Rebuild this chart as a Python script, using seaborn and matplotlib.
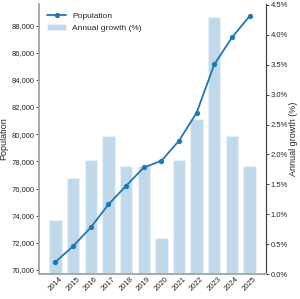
import matplotlib
matplotlib.use("Agg")
import matplotlib.pyplot as plt
import matplotlib.ticker as mticker
import seaborn as sns
import pandas as pd

# datos
years = [2014, 2015, 2016, 2017, 2018, 2019, 2020, 2021, 2022, 2023, 2024, 2025]
population = [70600, 71760, 73140, 74830, 76200, 77550, 78040, 79520, 81590, 85140, 87120, 88690]
growth = [0.9, 1.6, 1.9, 2.3, 1.8, 1.8, 0.6, 1.9, 2.6, 4.3, 2.3, 1.8]

df = pd.DataFrame({"year": years, "population": population, "growth": growth})

sns.set_style("ticks")
plt.rcParams["font.family"] = ["Liberation Sans", "DejaVu Sans"]
fs = 5.5

fig, ax = plt.subplots(figsize=(3.0, 2.99), dpi=100)
ax2 = ax.twinx()

# barras en el eje derecho
ax2.bar(df["year"], df["growth"], width=0.7, color="#1f77b4", alpha=0.28,
        label="Annual growth (%)")
# linea de poblacion en el eje izquierdo
sns.lineplot(data=df, x="year", y="population", ax=ax, color="#1f77b4",
             marker="o", markersize=3.8, markeredgewidth=0, linewidth=1.3,
             label="Population")

ax.set_zorder(ax2.get_zorder() + 1)
ax.patch.set_visible(False)

ax.set_xticks(years)
ax.set_xticklabels([str(y) for y in years], rotation=45, fontsize=fs)
ax.yaxis.set_major_locator(mticker.MultipleLocator(2000))
ax2.yaxis.set_major_locator(mticker.MultipleLocator(0.5))
ax.yaxis.set_major_formatter(mticker.FuncFormatter(lambda v, p: f"{v:,.0f}"))
ax2.yaxis.set_major_formatter(mticker.FuncFormatter(lambda v, p: f"{v:.1f}%"))
ax.tick_params(axis="y", labelsize=fs, length=2, width=0.6, pad=1.5)
ax.tick_params(axis="x", length=0, pad=1)
ax2.tick_params(axis="y", labelsize=fs, length=2, width=0.6, pad=1.5)
ax2.set_ylim(bottom=0)

ax.set_xlabel("")
ax.set_ylabel("Population", fontsize=6.5)
ax.yaxis.set_label_coords(-0.135, 0.5)
ax2.set_ylabel("Annual growth (%)", fontsize=6.5)
ax2.yaxis.set_label_coords(1.1, 0.5)

for a in (ax, ax2):
    a.spines["top"].set_visible(False)
    a.spines["left"].set_color("#aaaaaa")
    a.spines["bottom"].set_color("#aaaaaa")
    a.spines["left"].set_linewidth(1.3)
    a.spines["bottom"].set_linewidth(1.3)
    a.spines["right"].set_color("#444444")
    a.spines["right"].set_linewidth(0.8)

h1, l1 = ax.get_legend_handles_labels()
h2, l2 = ax2.get_legend_handles_labels()
ax.legend(h1 + h2, l1 + l2, loc="upper left", frameon=False, fontsize=fs + 0.5,
          handlelength=2.2, borderaxespad=0.6)

fig.subplots_adjust(left=0.13, right=0.887, bottom=0.083, top=0.987)
fig.savefig("out.png", dpi=100)
